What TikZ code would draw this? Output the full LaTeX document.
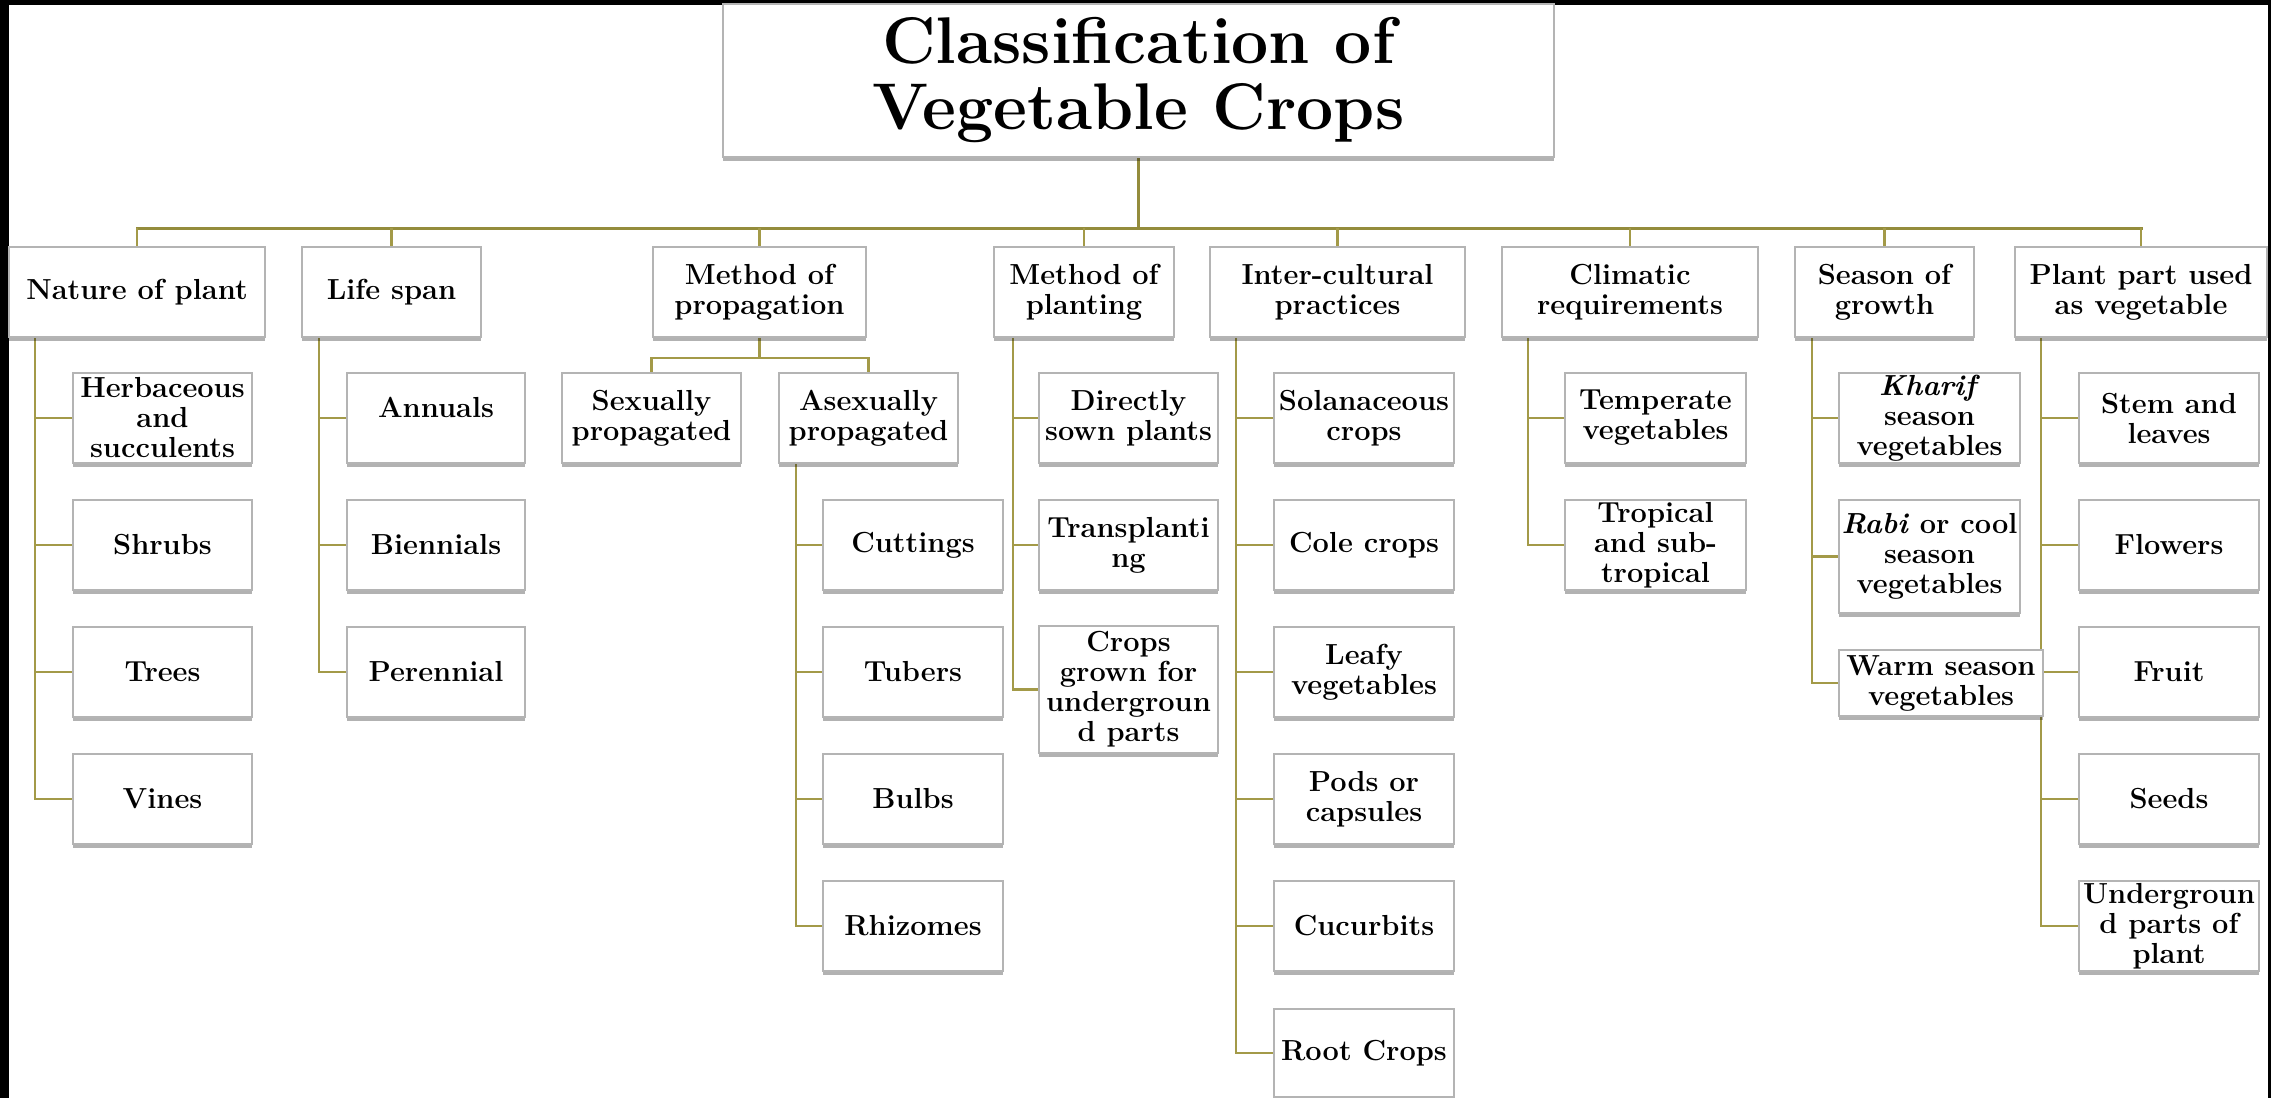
\documentclass[tikz,border=0pt]{standalone}
\usetikzlibrary{shadows}
\definecolor{conncol}{RGB}{163,154,72}
\definecolor{buscol}{RGB}{148,140,60}
\definecolor{boxline}{RGB}{180,180,180}
\pgfdeclarelayer{bg}
\pgfsetlayers{bg,main}
\begin{document}
\begin{tikzpicture}[x=1pt,y=-1pt,
  box/.style={draw=boxline, line width=1.8pt, fill=white, align=center, inner sep=0pt,
    font=\fontsize{29}{30}\selectfont\bfseries,
    drop shadow={shadow xshift=0pt, shadow yshift=-4pt, fill=black, opacity=0.3}},
  wh/.style 2 args={minimum width=#1pt, minimum height=#2pt},
  conn/.style={draw=conncol, line width=2.2pt},
  busline/.style={draw=buscol, line width=3pt}]
\useasboundingbox (0,0) rectangle (2271,1098);
% title
\node[box, wh={831}{153}, font=\fontsize{66}{66}\selectfont\bfseries] (title) at (1138.5,80.5) {Classification of\\Vegetable Crops};
% level 1
\node[box, wh={256}{90}] (n1) at (137,292) {Nature of plant};
\node[box, wh={179}{90}] (n2) at (391.5,292) {Life span};
\node[box, wh={213}{90}] (n3) at (759.5,292) {Method of\\propagation};
\node[box, wh={180}{90}] (n4) at (1084,292) {Method of\\planting};
\node[box, wh={255}{90}] (n5) at (1337.5,292) {Inter-cultural\\practices};
\node[box, wh={256}{90}] (n6) at (1630,292) {Climatic\\requirements};
\node[box, wh={179}{90}] (n7) at (1884.5,292) {Season of\\growth};
\node[box, wh={252}{90}] (n8) at (2141,292) {Plant part used\\as vegetable};
% nature of plant
\node[box, wh={179}{90}] (a1) at (162.5,418) {Herbaceous\\and\\succulents};
\node[box, wh={179}{90}] (a2) at (162.5,545) {Shrubs};
\node[box, wh={179}{90}] (a3) at (162.5,672) {Trees};
\node[box, wh={179}{90}] (a4) at (162.5,799) {Vines};
% life span
\node[box, wh={178}{90}, text depth=22pt] (b1) at (436,418) {Annuals};
\node[box, wh={178}{90}] (b2) at (436,545) {Biennials};
\node[box, wh={178}{90}] (b3) at (436,672) {Perennial};
% propagation
\node[box, wh={179}{90}] (c1) at (651.5,418) {Sexually\\propagated};
\node[box, wh={179}{90}] (c2) at (868.5,418) {Asexually\\propagated};
\node[box, wh={180}{90}] (d1) at (913,545) {Cuttings};
\node[box, wh={180}{90}] (d2) at (913,672) {Tubers};
\node[box, wh={180}{90}] (d3) at (913,799) {Bulbs};
\node[box, wh={180}{90}] (d4) at (913,926) {Rhizomes};
% planting
\node[box, wh={179}{90}] (e1) at (1128.5,418) {Directly\\sown plants};
\node[box, wh={179}{90}] (e2) at (1128.5,545) {Transplanti\\ng};
\node[box, wh={179}{127}] (e3) at (1128.5,689.5) {Crops\\grown for\\undergroun\\d parts};
% inter-cultural
\node[box, wh={180}{90}] (f1) at (1364,418) {Solanaceous\\crops};
\node[box, wh={180}{90}] (f2) at (1364,545) {Cole crops};
\node[box, wh={180}{90}] (f3) at (1364,672) {Leafy\\vegetables};
\node[box, wh={180}{90}] (f4) at (1364,799) {Pods or\\capsules};
\node[box, wh={180}{90}] (f5) at (1364,926) {Cucurbits};
\node[box, wh={180}{88}] (f6) at (1364,1053) {Root Crops};
% climatic
\node[box, wh={181}{90}] (g1) at (1655.5,418) {Temperate\\vegetables};
\node[box, wh={181}{90}] (g2) at (1655.5,545) {Tropical\\and sub-\\tropical};
% season
\node[box, wh={181}{90}] (h1) at (1929.5,418) {\textit{Kharif}\\season\\vegetables};
\node[box, wh={181}{113}] (h2) at (1929.5,556.5) {\textit{Rabi} or cool\\season\\vegetables};
\node[box, wh={204}{66}] (h3) at (1941,683) {Warm season\\vegetables};
% plant part
\node[box, wh={180}{90}] (i1) at (2169,418) {Stem and\\leaves};
\node[box, wh={180}{90}] (i2) at (2169,545) {Flowers};
\node[box, wh={180}{90}] (i3) at (2169,672) {Fruit};
\node[box, wh={180}{90}] (i4) at (2169,799) {Seeds};
\node[box, wh={180}{90}] (i5) at (2169,926) {Undergroun\\d parts of\\plant};
\begin{pgfonlayer}{bg}
\fill[white] (0,0) rectangle (2271,1098);
\fill[black] (0,0) rectangle (9,1098);
\fill[black] (0,0) rectangle (2271,5);
\fill[black] (2268,0) rectangle (2271,1098);
\coordinate (bus) at (0,228);
\draw[busline] (title.south) -- (title.south |- bus);
\draw[busline, line cap=rect] (n1.north |- bus) -- (n8.north |- bus);
\foreach \n in {n1,n2,n3,n4,n5,n6,n7,n8}
  \draw[conn] (\n.north |- bus) -- (\n.north);
\foreach \c in {a1,a2,a3,a4}
  \draw[conn] ([xshift=27pt]n1.south west) |- (\c.west);
\foreach \c in {b1,b2,b3}
  \draw[conn] ([xshift=18pt]n2.south west) |- (\c.west);
\foreach \c in {c1,c2}
  \draw[conn] (n3.south) -- ++(0,20) -| (\c.north);
\foreach \c in {d1,d2,d3,d4}
  \draw[conn] ([xshift=18pt]c2.south west) |- (\c.west);
\foreach \c in {e1,e2,e3}
  \draw[conn] ([xshift=20pt]n4.south west) |- (\c.west);
\foreach \c in {f1,f2,f3,f4,f5,f6}
  \draw[conn] ([xshift=27pt]n5.south west) |- (\c.west);
\foreach \c in {g1,g2}
  \draw[conn] ([xshift=27pt]n6.south west) |- (\c.west);
\foreach \c in {h1,h2,h3}
  \draw[conn] ([xshift=18pt]n7.south west) |- (\c.west);
\foreach \c in {i1,i2,i3,i4,i5}
  \draw[conn] ([xshift=27pt]n8.south west) |- (\c.west);
\end{pgfonlayer}
\end{tikzpicture}
\end{document}
